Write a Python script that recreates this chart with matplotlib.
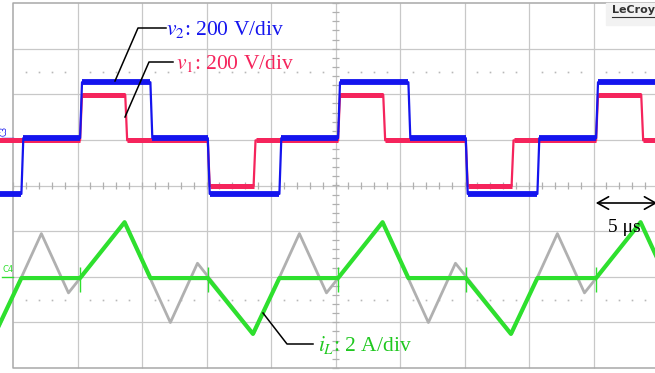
import numpy as np
import matplotlib.pyplot as plt

plt.rcParams['font.family'] = 'Liberation Serif'
plt.rcParams['mathtext.fontset'] = 'stix'

# scope settings
US_PER_DIV = 5.0
V_PER_DIV = 200.0
A_PER_DIV = 2.0
PERIOD = 20.0      # us
T0 = 5.2           # first rising edge on screen, us
EDGE = 0.15        # switching transition, us

# one switching period, times relative to the rising edge (us)
v2_t = [0.0, 5.45, 9.9, 15.45]
v2_v = [245, 0, -245, 0]
v1_t = [0.0, 3.5, 9.9, 13.45]
v1_v = [200, 0, -200, 0]

iL_t = [0.0, 3.45, 5.45, 9.9, 13.4, 15.45]
iL_a = [0.0, 2.45, 0.0, 0.0, -2.45, 0.0]
ig_t = [3.45, 7.0, 9.1, 13.45, 17.0, 19.1]
ig_a = [2.45, -1.95, 0.65, -2.45, 1.95, -0.65]

# channel offsets on screen, div
off_v2 = 1.04
off_v1 = 0.99
off_i = -2.03

periods = range(-1, 3)

# screen geometry, pixels
W, H = 655, 373
X0, DX = 13.0, 64.5
Y0, DY = 185.5, 45.6


def px(x, y):
    return (x - X0) / DX * US_PER_DIV, (Y0 - y) / DY


def square(times, levels):
    t, y, flats = [], [], []
    for k in periods:
        for i in range(len(times)):
            te = T0 + k * PERIOD + times[i]
            t += [te, te + EDGE]
            y += [levels[i - 1], levels[i]]
            nxt = times[i + 1] if i + 1 < len(times) else PERIOD + times[0]
            flats.append((te + EDGE, T0 + k * PERIOD + nxt, levels[i]))
    return np.array(t), np.array(y), flats


def tiled(times, vals):
    t, y = [], []
    for k in periods:
        t += [T0 + k * PERIOD + s for s in times]
        y += list(vals)
    return np.array(t), np.array(y)


fig = plt.figure(figsize=(W / 100, H / 100), dpi=100)
ax = fig.add_axes([0, 0, 1, 1])
xl = px(0, 0)[0], px(W, 0)[0]
yl = px(0, H)[1], px(0, 0)[1]
ax.set_xlim(xl)
ax.set_ylim(yl)
ax.axis('off')

# graticule
gc = '#c8c8c8'
xend = 10 * US_PER_DIV
ax.vlines(np.arange(1, 11) * US_PER_DIV, -4, 4, color=gc, lw=0.9, zorder=0)
ax.hlines(np.arange(-3, 4), 0, xend, color=gc, lw=0.9, zorder=0)
ax.plot([xend, 0, 0, xend], [4, 4, -4, -4], color='#a8a8a8', lw=1.1, zorder=0)

minor_x = np.arange(0, 10.01, 0.2) * US_PER_DIV
minor_y = np.arange(-4, 4.01, 0.2)
ax.vlines(minor_x, -0.07, 0.07, color='#b0b0b0', lw=0.9, zorder=0)
ax.hlines(minor_y, 25 - 0.25, 25 + 0.25, color='#b0b0b0', lw=0.9, zorder=0)
dots = [x for x in minor_x if abs(x / US_PER_DIV - round(x / US_PER_DIV)) > 0.01]
for yy in (2.5, -2.5):
    ax.plot(dots, [yy] * len(dots), ls='none', marker='s', ms=1.2,
            color='#b8b8b8', mec='none', zorder=0)

# voltages
col_v1, col_v2 = '#f5245c', '#1414ee'
for tv, lv, off, col, band in [(v1_t, v1_v, off_v1, col_v1, 3.6),
                               (v2_t, v2_v, off_v2, col_v2, 4.2)]:
    t, v, flats = square(tv, lv)
    ax.plot(t, off + v / V_PER_DIV, color=col, lw=1.6, zorder=3)
    for a, b, lvl in flats:
        ax.plot([a, b], [off + lvl / V_PER_DIV] * 2, color=col, lw=band,
                solid_capstyle='butt', zorder=3)

# inductor currents
t, a = tiled(ig_t, ig_a)
ax.plot(t, off_i + a / A_PER_DIV, color='#b0b0b0', lw=2.0, zorder=2)
t, a = tiled(iL_t, iL_a)
ax.plot(t, off_i + a / A_PER_DIV, color='#2ee02e', lw=3.0, zorder=3)
for k in periods:
    for s in (0.0, 9.9):
        ax.vlines(T0 + k * PERIOD + s, off_i - 0.3, off_i + 0.25,
                  color='#2ee02e', lw=1.0, zorder=3)

# channel markers
x, y = px(4, 131)
ax.text(x, y, 'C3', color=col_v2, fontsize=5.5, family='DejaVu Sans',
        rotation=90, ha='center', va='center')
ax.plot(*zip(px(2, 138), px(13, 138)), color=col_v2, lw=1.0)
x, y = px(8, 269)
ax.text(x, y, 'C4', color='#2ee02e', fontsize=6, family='DejaVu Sans',
        ha='center', va='center')
ax.plot(*zip(px(2, 277), px(13, 277)), color='#2ee02e', lw=1.0)

# labels with leader lines
ax.plot(*zip(px(115, 81), px(138, 28), px(166, 28)), color='black', lw=1.1, zorder=4)
ax.text(*px(166, 29), r'$v_2$: 200 V/div', color=col_v2, fontsize=15.5,
        ha='left', va='center')
ax.plot(*zip(px(125, 117), px(149, 62), px(173, 62)), color='black', lw=1.1, zorder=4)
ax.text(*px(176, 64), r'$v_1$: 200 V/div', color=col_v1, fontsize=15.5,
        ha='left', va='center')
ax.plot(*zip(px(263, 313), px(287, 344), px(313, 344)), color='black', lw=1.1, zorder=4)
ax.text(*px(318, 345), r'$i_L$: 2 A/div', color='#1fc81f', fontsize=15.5,
        ha='left', va='center')

# time scale arrow
ax.annotate('', xy=px(593, 203), xytext=px(660, 203),
            arrowprops=dict(arrowstyle='<->,head_length=0.8,head_width=0.45',
                            color='black', lw=1.2))
ax.text(*px(624, 228), '5 μs', color='black', fontsize=14,
        ha='center', va='center', zorder=5)

# scope logo
ax.add_patch(plt.Rectangle(px(606, 25), 50 / DX * US_PER_DIV, 22 / DY,
                           color='#f2f2f2', zorder=1))
ax.text(*px(612, 10), 'LeCroy', color='#333333', fontsize=8,
        family='DejaVu Sans', weight='bold', ha='left', va='center', zorder=2)
ax.plot(*zip(px(612, 17), px(655, 17)), color='#333333', lw=0.8, zorder=2)

fig.savefig('out.png', dpi=100)
